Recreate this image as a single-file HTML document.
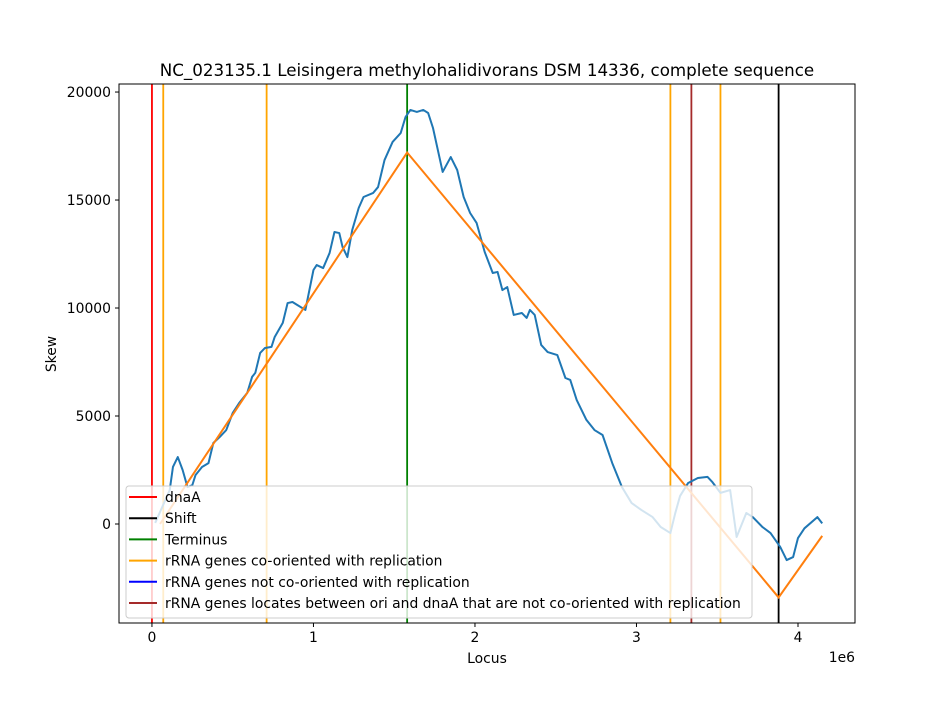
<!DOCTYPE html>
<html><head><meta charset="utf-8"><style>
body{margin:0;background:#fff;font-family:"Liberation Sans","DejaVu Sans",sans-serif}
svg text{font-family:"DejaVu Sans","Liberation Sans",sans-serif}
</style></head><body>
<svg id="chart" width="950" height="700" xmlns="http://www.w3.org/2000/svg">
<rect width="950" height="700" fill="#fff"/>
<text x="487" y="76" font-size="16.7" text-anchor="middle">NC_023135.1 Leisingera methylohalidivorans DSM 14336, complete sequence</text>
<g id="plot"></g>
</svg>
<script>
const locusMb=[0.02,0.11,0.13,0.16,0.19,0.22,0.25,0.27,0.31,0.35,0.38,0.42,0.46,0.50,0.54,0.59,0.62,0.64,0.67,0.70,0.74,0.76,0.81,0.84,0.87,0.90,0.95,1.00,1.02,1.06,1.10,1.13,1.16,1.18,1.21,1.24,1.28,1.31,1.37,1.40,1.44,1.49,1.54,1.57,1.60,1.64,1.68,1.71,1.74,1.80,1.85,1.89,1.93,1.97,2.01,2.06,2.11,2.14,2.17,2.20,2.24,2.29,2.32,2.34,2.37,2.41,2.45,2.51,2.56,2.59,2.63,2.69,2.74,2.79,2.85,2.91,2.97,3.03,3.10,3.15,3.21,3.24,3.27,3.32,3.38,3.44,3.47,3.52,3.58,3.62,3.68,3.72,3.78,3.83,3.89,3.93,3.97,4.00,4.04,4.12,4.15];
const skew=[50,1570,2640,3100,2500,1710,1800,2270,2640,2820,3750,4030,4350,5140,5600,6070,6810,7000,7920,8150,8200,8660,9310,10230,10280,10140,9910,11760,11990,11850,12550,13520,13470,12830,12360,13610,14630,15140,15330,15600,16850,17690,18100,18840,19170,19080,19170,19030,18340,16300,16990,16390,15140,14400,13940,12600,11620,11670,10830,10970,9680,9770,9540,9910,9680,8290,7960,7820,6760,6670,5740,4820,4350,4120,2820,1710,970,650,320,-140,-420,500,1300,1900,2130,2180,1940,1440,1570,-600,510,320,-140,-420,-1060,-1670,-1530,-650,-200,320,30];
const fitX=[0.05,1.58,3.88,4.15];
const fitY=[0,17200,-3400,-550];
const markerNames=["dnaA","oriented-1","oriented-2","terminus","oriented-3","not-oriented-brown","oriented-4","shift"];
const markerX=[0,0.07,0.71,1.58,3.21,3.34,3.52,3.88];
const markerColor=["#ff0000","#ffa500","#ffa500","#008000","#ffa500","#a52a2a","#ffa500","#000000"];
const xTicks=[0,1,2,3,4];
const yTicks=[0,5000,10000,15000,20000];
const legendLabels=["dnaA","Shift","Terminus","rRNA genes co-oriented with replication","rRNA genes not co-oriented with replication","rRNA genes locates between ori and dnaA that are not co-oriented with replication"];
const legendColors=["#ff0000","#000000","#008000","#ffa500","#0000ff","#a52a2a"];

const L=119,R=855,T=84,B=623;
const xMin=-0.204,xMax=4.353,yMin=-4584,yMax=20372;
const sx=v=>L+(v-xMin)/(xMax-xMin)*(R-L);
const sy=v=>B-(v-yMin)/(yMax-yMin)*(B-T);
const NS="http://www.w3.org/2000/svg";
const g=document.getElementById('plot');
function mk(t,a,p){const e=document.createElementNS(NS,t);for(const k in a)e.setAttribute(k,a[k]);(p||g).appendChild(e);return e;}

markerX.forEach((v,i)=>{const e=mk('line',{x1:sx(v),x2:sx(v),y1:T,y2:B,stroke:markerColor[i],'stroke-width':1.8});

});

const sk=mk('polyline',{points:locusMb.map((v,i)=>sx(v)+','+sy(skew[i])).join(' '),fill:'none',stroke:'#1f77b4','stroke-width':2,'stroke-linejoin':'round'});


const ft=mk('polyline',{points:fitX.map((v,i)=>sx(v)+','+sy(fitY[i])).join(' '),fill:'none',stroke:'#ff7f0e','stroke-width':2});



const fr=mk('rect',{x:L,y:T,width:R-L,height:B-T,fill:'none',stroke:'#000','stroke-width':1});



xTicks.forEach(v=>{const x=sx(v);mk('line',{x1:x,x2:x,y1:B,y2:B+4,stroke:'#000'});
const t=mk('text',{x:x,y:B+19,'font-size':13.9,'text-anchor':'middle'});t.textContent=v;

});
yTicks.forEach(v=>{const y=sy(v);mk('line',{x1:L-4,x2:L,y1:y,y2:y,stroke:'#000'});
const t=mk('text',{x:L-8,y:y+5,'font-size':13.9,'text-anchor':'end'});t.textContent=v;

});
let t=mk('text',{x:487,y:663,'font-size':13.9,'text-anchor':'middle'});t.textContent='Locus';


t=mk('text',{x:56,y:354,'font-size':13.9,'text-anchor':'middle',transform:'rotate(-90 56 354)'});t.textContent='Skew';


t=mk('text',{x:855,y:662,'font-size':13.9,'text-anchor':'end'});t.textContent='1e6';



const lg=mk('g',{});


mk('rect',{x:126,y:486,width:626,height:132,rx:3,fill:'#fff','fill-opacity':0.8,stroke:'#ccc'},lg);
legendLabels.forEach((s,i)=>{const y=497+i*21.2;
mk('line',{x1:129,x2:157,y1:y,y2:y,stroke:legendColors[i],'stroke-width':2},lg);
const e=mk('text',{x:165,y:y+5,'font-size':13.9},lg);e.textContent=s;

});
</script>
</body></html>
